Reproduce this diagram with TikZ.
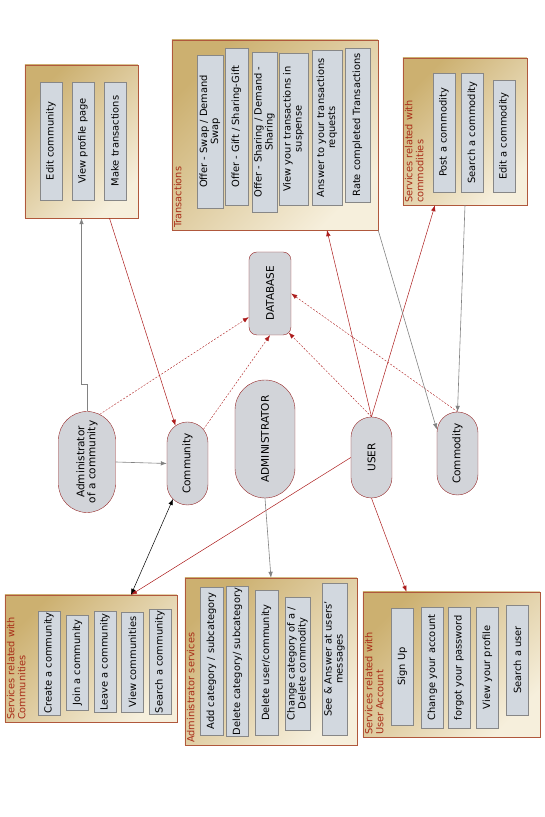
\documentclass[tikz,border=0pt]{standalone}
\usepackage{fontspec}
\setmainfont{DejaVu Sans}
\usetikzlibrary{arrows.meta, shapes.misc}
\definecolor{tanD}{RGB}{204,176,112}
\definecolor{tanL}{RGB}{246,239,220}
\definecolor{boxred}{RGB}{176,88,60}
\definecolor{ttlred}{RGB}{168,44,24}
\definecolor{itemfill}{RGB}{210,216,223}
\definecolor{itemdraw}{RGB}{135,135,135}
\definecolor{actfill}{RGB}{210,212,217}
\definecolor{actdraw}{RGB}{150,40,40}
\definecolor{lred}{RGB}{172,28,28}
\definecolor{lgray}{RGB}{130,130,130}

\begin{document}
\begin{tikzpicture}[rotate=90, transform shape, x=1pt, y=1pt,
      svc/.style={draw=boxred, top color=tanD, bottom color=tanL, shading angle=45, inner sep=0pt},
      item/.style={draw=itemdraw, fill=itemfill, align=center, inner sep=1.5pt, minimum height=22pt, font=\fontsize{9.9}{11}\selectfont},
      ttl/.style={anchor=north west, align=left, text=ttlred, inner sep=2pt, font=\fontsize{9.8}{11}\selectfont},
      actor/.style={draw=actdraw, fill=actfill, rounded rectangle, inner xsep=0pt, minimum height=41pt, font=\fontsize{10.5}{12}\selectfont},
      rarr/.style={-{Latex[length=6pt, width=4.5pt]}, draw=lred, line width=0.5pt},
      garr/.style={-{Latex[length=6pt, width=4.5pt]}, draw=lgray, line width=0.6pt},
      darr/.style={-{Latex[length=6pt, width=4.5pt]}, draw=lred, line width=0.4pt, dash pattern=on 2pt off 1.5pt},
      barr/.style={{Latex[length=6pt, width=4.5pt]}-{Latex[length=6pt, width=4.5pt]}, draw=black, line width=0.5pt}
    ]
    \useasboundingbox (0,0) rectangle (817,545);

    \node[svc, minimum width=153pt, minimum height=113pt] (editbox) at (675.5,463.5) {};
    \node[svc, minimum width=190pt, minimum height=206pt] (trbox) at (682,270) {};
    \node[svc, minimum width=147pt, minimum height=124pt] (cmbox) at (685.5,80) {};
    \node[svc, minimum width=127pt, minimum height=172pt] (cobox) at (158.5,454) {};
    \node[svc, minimum width=167pt, minimum height=172pt] (adbox) at (155.5,274) {};
    \node[svc, minimum width=145pt, minimum height=177pt] (uabox) at (152.5,93.5) {};

    \node[ttl] (trttl) at (trbox.north west) {Transactions};
    \node[ttl] (cmttl) at (cmbox.north west) {Services related with\\commodities};
    \node[ttl] (cottl) at (cobox.north west) {Services related with\\Communities};
    \node[ttl] (adttl) at (adbox.north west) {Administrator services};
    \node[ttl] (uattl) at (uabox.north west) {Services related with\\User Account};

    \node[item, minimum width=118pt] (editcom) at (676,494) {Edit community};
    \node[item, minimum width=118pt] (viewprof) at (676,462) {View profile page};
    \node[item, minimum width=118pt] (maketr) at (676,430) {Make transactions};

    \node[item, minimum width=153pt, minimum height=26pt] (offswap) at (685.5,335) {Offer - Swap / Demand\\Swap};
    \node[item, minimum width=157pt, minimum height=23pt] (offgift) at (690.5,308.5) {Offer - Gift / Sharing-Gift};
    \node[item, minimum width=160pt, minimum height=25pt] (offshare) at (685,280.5) {Offer - Sharing / Demand -\\Sharing};
    \node[item, minimum width=152pt, minimum height=29pt] (viewsusp) at (688,251.5) {View your transactions in\\suspense};
    \node[item, minimum width=155pt, minimum height=30pt] (answreq) at (689.5,218) {Answer to your transactions\\requests};
    \node[item, minimum width=154pt, minimum height=25pt] (ratetr) at (692,187.5) {Rate completed Transactions};

    \node[item, minimum width=119pt] (postcm) at (684.5,101) {Post a commodity};
    \node[item, minimum width=119pt] (searchcm) at (684.5,72.5) {Search a commodity};
    \node[item, minimum width=112pt] (editcm) at (681,41) {Edit a commodity};

    \node[item, minimum width=102pt] (createco) at (154,496) {Create a community};
    \node[item, minimum width=95pt] (joinco) at (154.5,467.5) {Join a community};
    \node[item, minimum width=100pt] (leaveco) at (155,440) {Leave a community};
    \node[item, minimum width=100pt] (viewco) at (155,412.5) {View communities};
    \node[item, minimum width=100pt] (searchco) at (155,385) {Search a community};

    \node[item, minimum width=148pt, minimum height=23pt] (addcat) at (156,333.5) {Add category / subcategory};
    \node[item, minimum width=147pt] (delcat) at (155.5,307.5) {Delete category/ subcategory};
    \node[item, minimum width=145pt, minimum height=23pt] (deluser) at (154.5,278.5) {Delete user/community};
    \node[item, minimum width=133pt, minimum height=25pt] (chgcat) at (153.5,247.5) {Change category of a /\\Delete commodity};
    \node[item, minimum width=152pt, minimum height=25pt] (seeans) at (158,210.5) {See \& Answer at users'\\messages};

    \node[item, minimum width=117pt] (signup) at (150.5,142.5) {Sign Up};
    \node[item, minimum width=121pt] (chgacc) at (149.5,112.5) {Change your account};
    \node[item, minimum width=121pt] (forgot) at (149.5,86) {forgot your password};
    \node[item, minimum width=121pt] (viewpro) at (149.5,57.5) {View your profile};
    \node[item, minimum width=110pt] (searchusr) at (157,27.5) {Search a user};

    \node[actor, minimum width=101pt, minimum height=57pt] (aoc) at (355,458) {\makebox[0pt]{\shortstack{Administrator\\of a community}}};
    \node[actor, minimum width=83pt] (community) at (353.5,357.5) {\makebox[0pt]{Community}};
    \node[actor, minimum width=118pt, minimum height=60pt] (admin) at (378,280) {\makebox[0pt]{ADMINISTRATOR}};
    \node[draw=actdraw, fill=actfill, rounded corners=8pt, minimum width=83pt, minimum height=42pt, font=\fontsize{10.5}{12}\selectfont] (database) at (523.5,275) {DATABASE};
    \node[actor, minimum width=81pt] (user) at (359.5,173.5) {\makebox[0pt]{USER}};
    \node[actor, minimum width=83pt] (commodity) at (363.5,87.5) {\makebox[0pt]{Commodity}};

    \draw[garr] (aoc.east) -- ++(27,0) |- (editbox.west);
    \draw[rarr] ([yshift=-28pt]editbox.west) -- (community);
    \draw[garr] (aoc.south) -- (community.north);
    \draw[darr] (aoc.-15) -- ([xshift=18pt]database.north west);
    \draw[darr] (community.-25) -- (database.west);
    \draw[darr] (user.east) -- ([shift={(2.5pt,2.5pt)}]database.south west);
    \draw[darr] (commodity.east) -- (database.south);
    \draw[rarr] (user.east) -- ([yshift=-52pt]trbox.west);
    \draw[rarr] (user.east) -- ([yshift=30pt]cmbox.west);
    \draw[garr] (trbox.south west) -- ([xshift=24pt]commodity.north);
    \draw[garr] (cmbox.west) -- (commodity.east);
    \draw[rarr] (user.north) -- ([yshift=-40pt]cobox.east);
    \draw[barr] ([shift={(-35.5pt,14.5pt)}]community.center) -- ([yshift=-40pt]cobox.east);
    \draw[garr] (admin.west) -- (adbox.east);
    \draw[rarr] (user.west) -- ([yshift=45pt]uabox.east);
  \end{tikzpicture}
\end{document}
